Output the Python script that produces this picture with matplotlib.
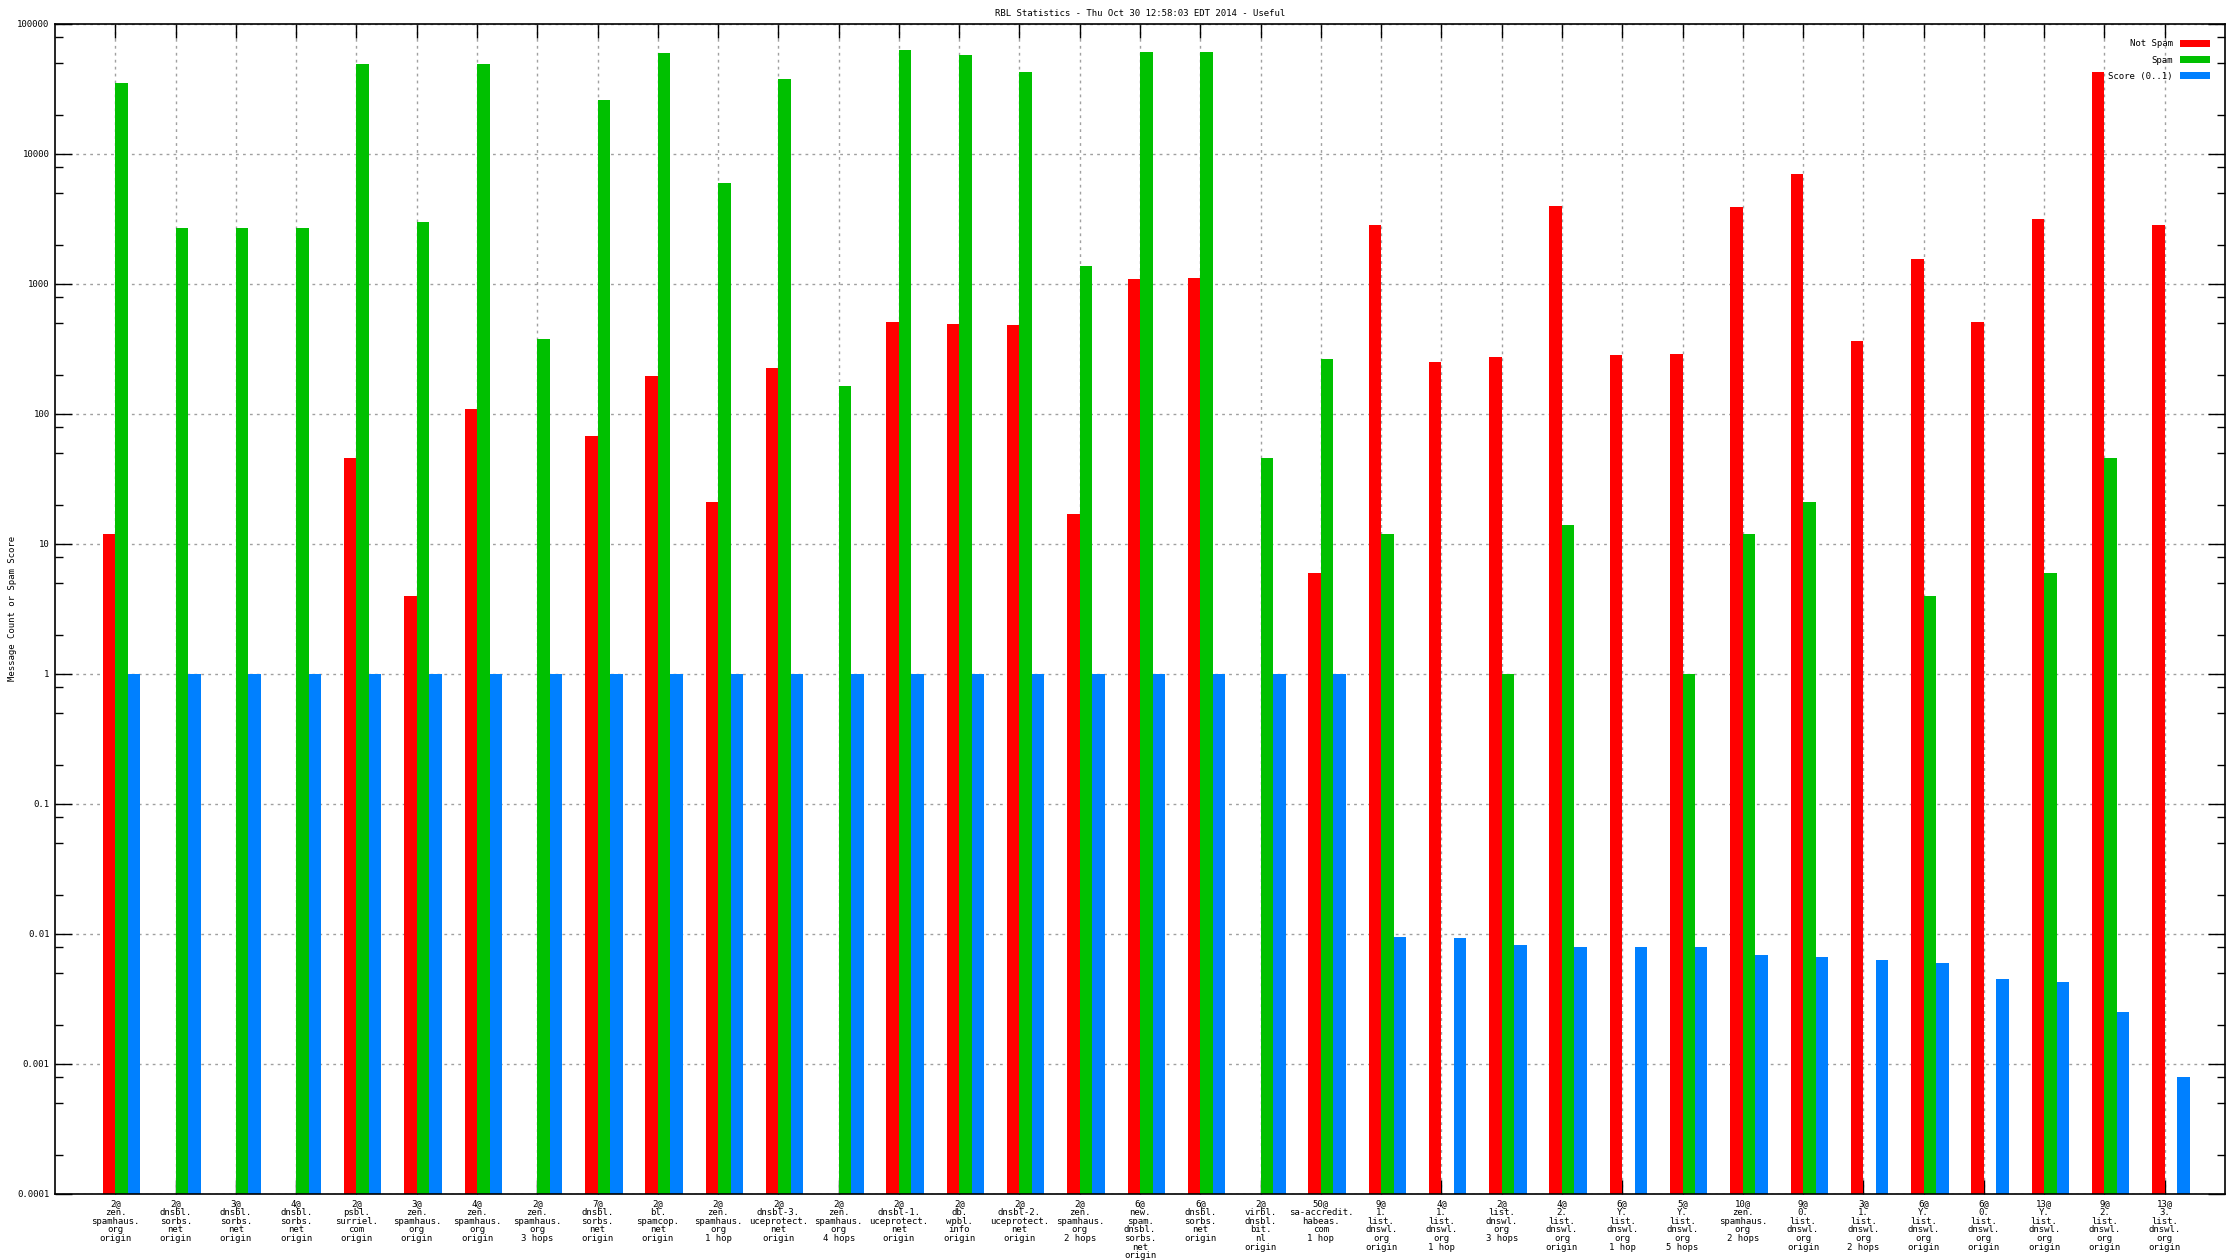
"""
RBL statistics bar chart.
"""

import numpy as np
import matplotlib
matplotlib.use("Agg")
import matplotlib.pyplot as plt
from matplotlib.ticker import FixedLocator, FixedFormatter, LogLocator, NullFormatter


nan = np.nan

labels = [
    "2@\nzen.\nspamhaus.\norg\norigin",
    "2@\ndnsbl.\nsorbs.\nnet\norigin",
    "3@\ndnsbl.\nsorbs.\nnet\norigin",
    "4@\ndnsbl.\nsorbs.\nnet\norigin",
    "2@\npsbl.\nsurriel.\ncom\norigin",
    "3@\nzen.\nspamhaus.\norg\norigin",
    "4@\nzen.\nspamhaus.\norg\norigin",
    "2@\nzen.\nspamhaus.\norg\n3 hops",
    "7@\ndnsbl.\nsorbs.\nnet\norigin",
    "2@\nbl.\nspamcop.\nnet\norigin",
    "2@\nzen.\nspamhaus.\norg\n1 hop",
    "2@\ndnsbl-3.\nuceprotect.\nnet\norigin",
    "2@\nzen.\nspamhaus.\norg\n4 hops",
    "2@\ndnsbl-1.\nuceprotect.\nnet\norigin",
    "2@\ndb.\nwpbl.\ninfo\norigin",
    "2@\ndnsbl-2.\nuceprotect.\nnet\norigin",
    "2@\nzen.\nspamhaus.\norg\n2 hops",
    "6@\nnew.\nspam.\ndnsbl.\nsorbs.\nnet\norigin",
    "6@\ndnsbl.\nsorbs.\nnet\norigin",
    "2@\nvirbl.\ndnsbl.\nbit.\nnl\norigin",
    "50@\nsa-accredit.\nhabeas.\ncom\n1 hop",
    "9@\n1.\nlist.\ndnswl.\norg\norigin",
    "4@\n1.\nlist.\ndnswl.\norg\n1 hop",
    "2@\nlist.\ndnswl.\norg\n3 hops",
    "4@\n2.\nlist.\ndnswl.\norg\norigin",
    "6@\nY.\nlist.\ndnswl.\norg\n1 hop",
    "5@\nY.\nlist.\ndnswl.\norg\n5 hops",
    "10@\nzen.\nspamhaus.\norg\n2 hops",
    "9@\n0.\nlist.\ndnswl.\norg\norigin",
    "3@\n1.\nlist.\ndnswl.\norg\n2 hops",
    "6@\nY.\nlist.\ndnswl.\norg\norigin",
    "6@\n0.\nlist.\ndnswl.\norg\norigin",
    "13@\nY.\nlist.\ndnswl.\norg\norigin",
    "9@\n2.\nlist.\ndnswl.\norg\norigin",
    "13@\n3.\nlist.\ndnswl.\norg\norigin",
]

not_spam = [
    12, nan, nan, nan, 46, 4, 110, nan, 68, 195,
    21, 225, nan, 510, 490, 480, 17, 1100, 1120, nan,
    6, 2850, 250, 275, 4000, 285, 290, 3900, 7000, 365,
    1550, 510, 3150, 43000, 2850,
]

spam = [
    35000, 2700, 2700, 2700, 49000, 3000, 49000, 380, 26000, 60000,
    6000, 38000, 165, 63000, 58000, 43000, 1380, 61000, 61000, 46,
    265, 12, nan, 1, 14, nan, 1, 12, 21, nan,
    4, nan, 6, 46, nan,
]

score = [
    1, 1, 1, 1, 1, 1, 1, 1, 1, 1,
    1, 1, 1, 1, 1, 1, 1, 1, 1, 1,
    1, 0.0095, 0.0093, 0.0082, 0.0080, 0.0079, 0.0079, 0.0069, 0.0067, 0.0063,
    0.0060, 0.0045, 0.0043, 0.0025, 0.0008,
]

ytick_values = [1e-4, 1e-3, 1e-2, 1e-1, 1, 10, 100, 1000, 10000, 100000]
ytick_labels = ["0.0001", "0.001", "0.01", "0.1", "1", "10", "100",
                "1000", "10000", "100000"]


def create_chart():
    """
    Create the grouped log-scale bar chart.
    """

    plt.rcParams["font.family"] = ["DejaVu Sans Mono", "DejaVu Sans"]
    plt.rcParams["font.size"] = 6.5

    fig = plt.figure(figsize=(22.4, 12.6), dpi=100)
    ax = fig.add_axes([0.0246, 0.0524, 0.9687, 0.9286])

    x = np.arange(len(labels))
    w = 0.207

    ax.set_yscale("log")

    ax.bar(x - 0.5 * w, not_spam, w, color="#ff0000", label="Not Spam",
           zorder=2)
    ax.bar(x + 0.5 * w, spam, w, color="#00c000", label="Spam", zorder=2)
    ax.bar(x + 1.5 * w, score, w, color="#0080ff", label="Score (0..1)",
           zorder=2)

    ax.set_xlim(-1, 35)
    ax.set_ylim(1e-4, 1e5)

    ax.yaxis.set_major_locator(FixedLocator(ytick_values))
    ax.yaxis.set_major_formatter(FixedFormatter(ytick_labels))
    ax.yaxis.set_minor_locator(LogLocator(base=10, subs=[2, 5, 8],
                                          numticks=20))
    ax.yaxis.set_minor_formatter(NullFormatter())

    ax.set_xticks(x)
    ax.set_xticklabels(labels, linespacing=0.95)

    ax.tick_params(axis="y", which="major", direction="in", length=12,
                   width=1, right=True, pad=4, labelsize=6.5)
    ax.tick_params(axis="y", which="minor", direction="in", length=6,
                   width=1, right=True)
    ax.tick_params(axis="x", which="major", direction="in", length=10,
                   width=1, top=True, pad=4, labelsize=6.5)

    for spine in ax.spines.values():
        spine.set_linewidth(1.2)

    ax.grid(True, which="major", color="#a0a0a0", linestyle=(0, (2, 3)),
            linewidth=1, zorder=0)

    fig.text(0.0035, 0.517, "Message Count or Spam Score", fontsize=6.5,
             rotation=90, ha="left", va="center")
    ax.set_title("RBL Statistics - Thu Oct 30 12:58:03 EDT 2014 - Useful",
                 fontsize=6.5, pad=6)

    ax.legend(loc="upper right", frameon=False, markerfirst=False,
              handlelength=3.3, handleheight=0.8, labelspacing=0.8,
              borderaxespad=1.3, fontsize=6.5)

    fig.savefig("out.png", dpi=100)


if __name__ == "__main__":

    create_chart()
